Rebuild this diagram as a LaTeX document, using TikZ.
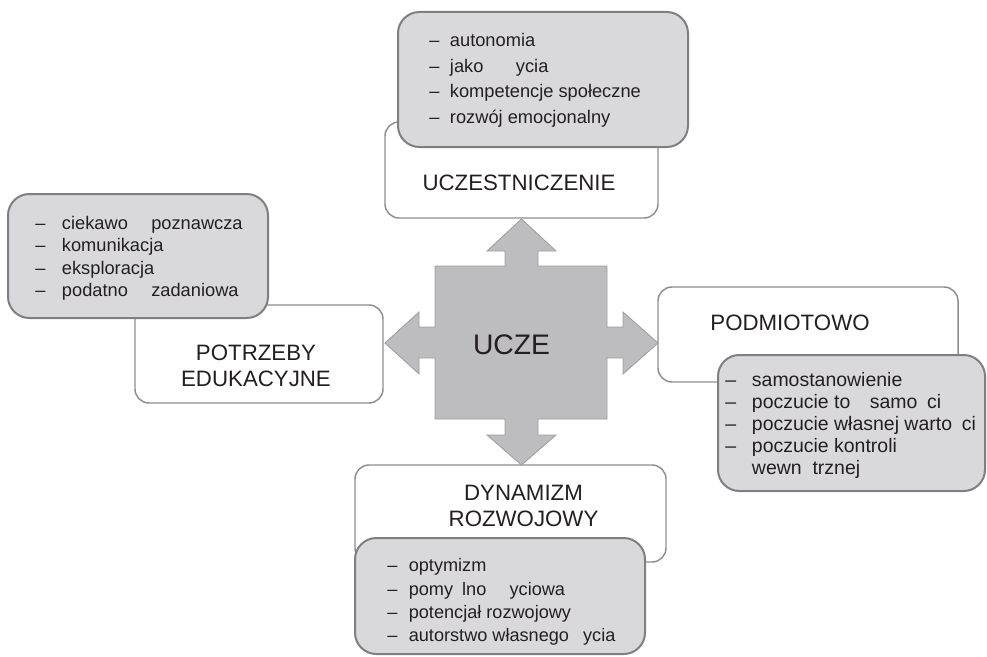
\documentclass[tikz,border=0pt]{standalone}
\usepackage{fontspec}
\setmainfont{Liberation Sans}
\definecolor{ink}{HTML}{231F20}
\definecolor{boxline}{HTML}{8E8E90}
\definecolor{noteline}{HTML}{7F7F81}
\definecolor{notefill}{HTML}{D9D9DB}
\definecolor{crossfill}{HTML}{BDBDC0}
\definecolor{crossline}{HTML}{9C9C9E}
\begin{document}
\begin{tikzpicture}[x=0.75pt,y=-0.75pt,
  plainbox/.style={draw=boxline, line width=1.1pt, fill=white, rounded corners=10.5pt, inner sep=0pt},
  notebox/.style={draw=noteline, line width=1.5pt, fill=notefill, rounded corners=16pt, inner sep=0pt},
  heading/.style={inner sep=0pt, anchor=base, text=ink, font=\fontsize{16.7}{19.5}\selectfont},
  notes/.style={inner sep=0pt, anchor=base west, text=ink}]
\useasboundingbox (0,0) rectangle (987,656);

% plain frames with the four headings
\node[plainbox, minimum width=204.75pt, minimum height=72pt]  (partBox)  at (521.5,170)  {};
\node[plainbox, minimum width=186pt,    minimum height=73.5pt] (needsBox) at (259,354)   {};
\node[plainbox, minimum width=225pt,    minimum height=71.25pt] (subjBox) at (808,334.5) {};
\node[plainbox, minimum width=233.25pt, minimum height=72.75pt] (dynBox)  at (510.5,513.5) {};

% central four-way arrow
\draw[fill=crossfill, draw=crossline, line width=0.6pt, line join=miter]
  (521.5,219) -- (556,251) -- (538,251) -- (538,266) -- (607,266) -- (607,327)
  -- (623,327) -- (623,312) -- (658,343) -- (623,374) -- (623,358) -- (607,358)
  -- (607,419) -- (538,419) -- (538,435) -- (556,435) -- (521.5,465) -- (487,435)
  -- (505,435) -- (505,419) -- (435,419) -- (435,358) -- (419,358) -- (419,374)
  -- (385,343) -- (419,312) -- (419,327) -- (435,327) -- (435,266) -- (505,266)
  -- (505,251) -- (487,251) -- cycle;
\node[heading, font=\fontsize{21.2}{25}\selectfont] (learner) at (511.5,354) {UCZE};

% headings
\node[heading] (partTitle) at (519,190) {UCZESTNICZENIE};
\node[heading] (needsTitle) at (256,360.7) {\begin{tabular}[t]{@{}c@{}}POTRZEBY\\EDUKACYJNE\end{tabular}};
\node[heading] (subjTitle) at (790,330) {PODMIOTOWO};
\node[heading] (dynTitle) at (523.5,500) {\begin{tabular}[t]{@{}c@{}}DYNAMIZM\\ROZWOJOWY\end{tabular}};

% shaded note boxes
\node[notebox, minimum width=217.5pt,  minimum height=101.25pt] (partNote)  at (543,79.5) {};
\node[notebox, minimum width=195pt,    minimum height=93pt]     (needsNote) at (138,256)  {};
\node[notebox, minimum width=200.25pt, minimum height=102pt]    (subjNote)  at (851.5,423) {};
\node[notebox, minimum width=217.5pt,  minimum height=87pt]     (dynNote)   at (500,596)  {};

% note lists
\node[notes, font=\fontsize{13.7}{19.2}\selectfont] (partList) at (429,46.7)
  {\begin{tabular}[t]{@{}l@{\hspace{7.9pt}}l@{}}
   – & autonomia\\
   – & jako\hspace{1.78em}ycia\\
   – & kompetencje społeczne\\
   – & rozwój emocjonalny
   \end{tabular}};
\node[notes, font=\fontsize{13.7}{16.9}\selectfont] (needsList) at (35,229.3)
  {\begin{tabular}[t]{@{}l@{\hspace{12.4pt}}l@{}}
   – & ciekawo\hspace{1em} poznawcza\\
   – & komunikacja\\
   – & eksploracja\\
   – & podatno\hspace{1em} zadaniowa
   \end{tabular}};
\node[notes, font=\fontsize{14.6}{16.5}\selectfont] (subjList) at (725,386.7)
  {\begin{tabular}[t]{@{}l@{\hspace{11.9pt}}l@{}}
   – & samostanowienie\\
   – & poczucie to\hspace{1em}samo\hspace{0.5em}ci\\
   – & poczucie własnej warto\hspace{0.5em}ci\\
   – & poczucie kontroli\\
     & wewn\hspace{0.556em}trznej
   \end{tabular}};
\node[notes, font=\fontsize{13.6}{17.5}\selectfont] (dynList) at (387,571.7)
  {\begin{tabular}[t]{@{}l@{\hspace{8.6pt}}l@{}}
   – & optymizm\\
   – & pomy\hspace{0.5em}lno\hspace{1.28em}yciowa\\
   – & potencjał rozwojowy\\
   – & autorstwo własnego \hspace{0.5em}ycia
   \end{tabular}};
\end{tikzpicture}
\end{document}
